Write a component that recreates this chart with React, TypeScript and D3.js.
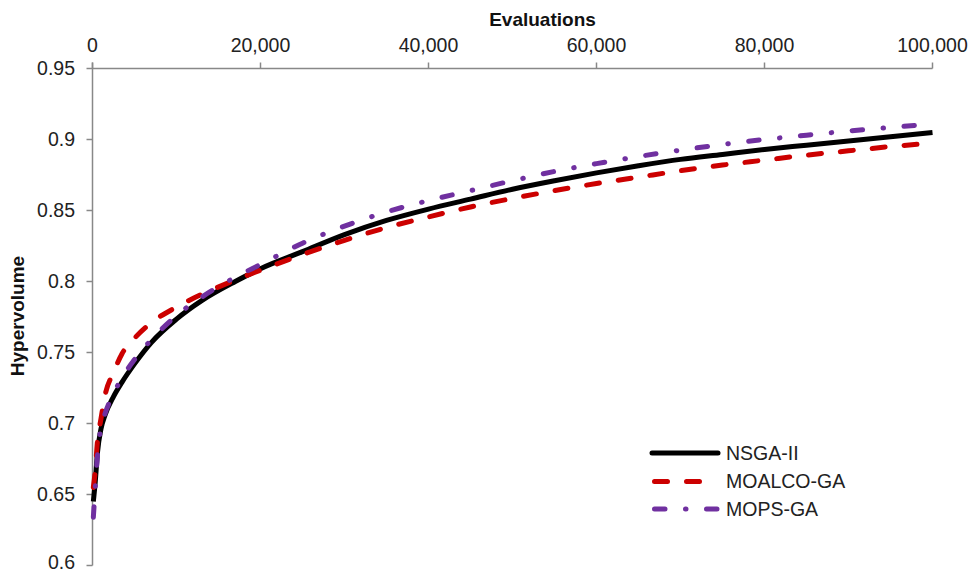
import React from "react";
import * as d3 from "d3";

const evaluations = [100, 300, 600, 1000, 1500, 2500, 3500, 5000, 7000, 10000, 13000, 17000, 20000, 25000, 30000, 35000, 40000, 45000, 50000, 55000, 60000, 65000, 70000, 75000, 80000, 85000, 90000, 95000, 100000];
const nsga2 = [0.645, 0.657, 0.68, 0.696, 0.706, 0.719, 0.729, 0.742, 0.757, 0.7735, 0.7865, 0.8, 0.809, 0.821, 0.833, 0.843, 0.851, 0.858, 0.865, 0.871, 0.8765, 0.8815, 0.886, 0.8895, 0.893, 0.896, 0.899, 0.902, 0.905];
const moalco = [0.655, 0.665, 0.688, 0.703, 0.72, 0.736, 0.749, 0.76, 0.771, 0.782, 0.791, 0.801, 0.808, 0.819, 0.829, 0.838, 0.8455, 0.8525, 0.8585, 0.864, 0.869, 0.8735, 0.878, 0.882, 0.8855, 0.889, 0.892, 0.895, 0.8975];
const mops = [0.634, 0.652, 0.678, 0.697, 0.707, 0.721, 0.732, 0.745, 0.759, 0.776, 0.789, 0.803, 0.812, 0.827, 0.839, 0.849, 0.857, 0.864, 0.871, 0.8775, 0.883, 0.888, 0.8925, 0.8965, 0.9, 0.903, 0.906, 0.9085, 0.911];

const xTicks = [0, 20000, 40000, 60000, 80000, 100000];
const yTicks = [0.6, 0.65, 0.7, 0.75, 0.8, 0.85, 0.9, 0.95];

const seriesNames = ["NSGA-II", "MOALCO-GA", "MOPS-GA"];
const seriesValues = [nsga2, moalco, mops];
const seriesColors = ["#000000", "#cc0000", "#7030a0"];
const seriesDash = ["none", "13 19", "10.5 20.5 0.5 20.5"];

const W = 970;
const H = 574;
const FONT = "'Liberation Sans', Arial, sans-serif";

export default function App() {
  const x = d3.scaleLinear().domain([0, 100000]).range([92.5, 932.5]);
  const y = d3.scaleLinear().domain([0.6, 0.95]).range([565.5, 68.5]);
  const fmtX = d3.format(",");
  const fmtY = (v: number) => String(+v.toFixed(2));
  const line = d3
    .line<number>()
    .x((_, i) => x(evaluations[i]))
    .y((d) => y(d))
    .curve(d3.curveMonotoneX);

  const legendX0 = 652;
  const legendX1 = 718;
  const legendY = [453, 481.5, 509];

  return (
    <svg
      width={W}
      height={H}
      style={{ position: "absolute", left: 0, top: 0, background: "#ffffff" }}
      fontFamily={FONT}
    >
      <rect x={0} y={0} width={W} height={H} fill="#ffffff" />
      {/* axes */}
      <line x1={x(0)} x2={x(100000)} y1={y(0.95)} y2={y(0.95)} stroke="#888" strokeWidth={1.5} />
      <line x1={x(0)} x2={x(0)} y1={y(0.95) - 6} y2={y(0.6)} stroke="#888" strokeWidth={1.5} />
      {xTicks.map((t) => (
        <g key={"xt" + t}>
          <line x1={x(t)} x2={x(t)} y1={y(0.95) - 6} y2={y(0.95)} stroke="#888" strokeWidth={1.5} />
          <text x={x(t)} y={52} textAnchor="middle" fontSize={19.5} fill="#222">
            {fmtX(t)}
          </text>
        </g>
      ))}
      {yTicks.map((t) => (
        <g key={"yt" + t}>
          <line x1={x(0) - 6} x2={x(0)} y1={y(t)} y2={y(t)} stroke="#888" strokeWidth={1.5} />
          <text x={75} y={Math.min(y(t), 562)} dy="0.35em" textAnchor="end" fontSize={19.5} fill="#222">
            {fmtY(t)}
          </text>
        </g>
      ))}
      <text x={(x(0) + x(100000)) / 2 + 30} y={26} textAnchor="middle" fontSize={19} fontWeight="bold" fill="#111">
        Evaluations
      </text>
      <text
        transform={`translate(24, ${316}) rotate(-90)`}
        textAnchor="middle"
        fontSize={19}
        fontWeight="bold"
        fill="#111"
      >
        Hypervolume
      </text>
      {/* series */}
      {seriesValues.map((vals, i) => (
        <path
          key={seriesNames[i]}
          d={line(vals) || ""}
          fill="none"
          stroke={seriesColors[i]}
          strokeWidth={5}
          strokeDasharray={seriesDash[i]}
          strokeLinecap={i === 0 ? "butt" : "round"}
          strokeLinejoin="round"
        />
      ))}
      {/* legend */}
      {seriesNames.map((name, i) => (
        <g key={"lg" + name}>
          <line
            x1={legendX0 + (i === 0 ? 0 : 2.5)}
            x2={legendX1}
            y1={legendY[i]}
            y2={legendY[i]}
            stroke={seriesColors[i]}
            strokeWidth={5}
            strokeDasharray={seriesDash[i]}
            strokeLinecap="round"
          />
          <text x={726} y={legendY[i]} dy="0.35em" fontSize={19.5} fill="#222">
            {name}
          </text>
        </g>
      ))}
    </svg>
  );
}
